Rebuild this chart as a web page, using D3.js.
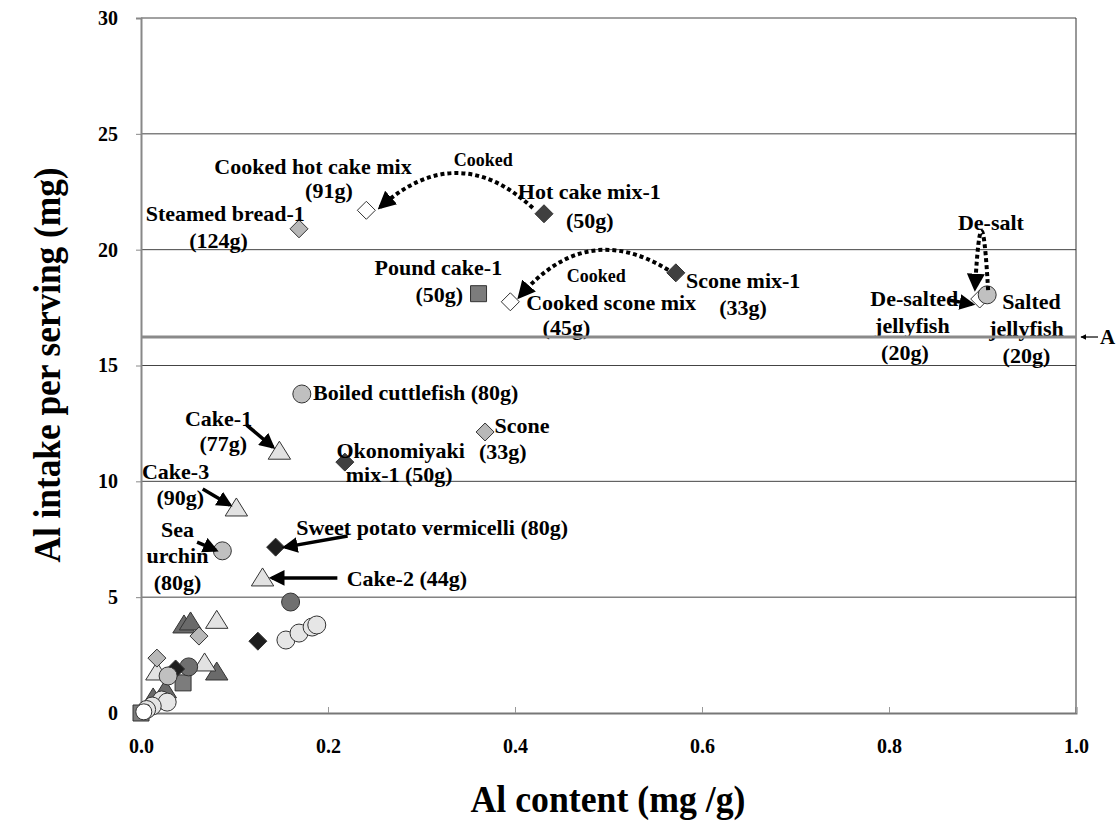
<!DOCTYPE html>
<html>
<head>
<meta charset="utf-8">
<script src="https://cdn.jsdelivr.net/npm/d3@7"></script>
<style>
  body { margin: 0; background: #fff; }
  svg text { font-family: "Liberation Serif", "DejaVu Serif", serif; font-weight: bold; }
</style>
</head>
<body>
<div id="chart"></div>
<script>
// values: [Al content mg/g, Al intake mg]
var blackDiamonds  = [[0.144, 7.16], [0.125, 3.10], [0.037, 1.90]];
var darkDiamonds   = [[0.431, 21.55], [0.572, 19.0], [0.218, 10.83]];
var lightDiamonds  = [[0.169, 20.9], [0.368, 12.13], [0.062, 3.32], [0.017, 2.37]];
var whiteDiamonds  = [[0.241, 21.7], [0.395, 17.75], [0.897, 17.87]];
var darkTriangles  = [[0.046, 3.80], [0.053, 3.93], [0.081, 1.77], [0.026, 1.0], [0.013, 0.65]];
var lightTriangles = [[0.148, 11.3], [0.102, 8.85], [0.130, 5.83], [0.081, 4.0], [0.017, 1.77], [0.068, 2.16]];
var grayCircles    = [[0.160, 4.79], [0.051, 1.99]];
var lightCircles   = [[0.172, 13.77], [0.087, 7.0], [0.029, 1.6], [0.905, 18.05]];
var paleCircles    = [[0.155, 3.15], [0.169, 3.45], [0.183, 3.71], [0.188, 3.8], [0.022, 0.56], [0.028, 0.47], [0.012, 0.3], [0.006, 0.15]];
var graySquares    = [[0.361, 18.1], [0.045, 1.3], [0.0, 0.0]];
var whiteCircles   = [[0.003, 0.05]];

var xTicks = [0.0, 0.2, 0.4, 0.6, 0.8, 1.0];
var yTicks = [0, 5, 10, 15, 20, 25, 30];
var lineA = 16.23;

// text labels [text, x, y, anchor, small]
var labels = [
  ["Cooked hot cake mix", 0.184, 23.61, "middle"],
  ["(91g)", 0.201, 22.57, "middle"],
  ["Cooked", 0.366, 23.87, "middle", 1],
  ["Hot cake mix-1", 0.403, 22.53, "start"],
  ["(50g)", 0.480, 21.28, "middle"],
  ["Steamed bread-1", 0.005, 21.58, "start"],
  ["(124g)", 0.083, 20.41, "middle"],
  ["Pound cake-1", 0.318, 19.25, "middle"],
  ["(50g)", 0.319, 18.08, "middle"],
  ["Cooked", 0.487, 18.86, "middle", 1],
  ["Scone mix-1", 0.583, 18.69, "start"],
  ["(33g)", 0.644, 17.52, "middle"],
  ["Cooked scone mix", 0.412, 17.74, "start"],
  ["(45g)", 0.455, 16.66, "middle"],
  ["De-salt", 0.909, 21.19, "middle"],
  ["De-salted", 0.780, 17.91, "start"],
  ["jellyfish", 0.825, 16.75, "middle"],
  ["(20g)", 0.817, 15.58, "middle"],
  ["Salted", 0.921, 17.78, "start"],
  ["jellyfish", 0.947, 16.62, "middle"],
  ["(20g)", 0.947, 15.45, "middle"],
  ["Boiled cuttlefish (80g)", 0.184, 13.85, "start"],
  ["Cake-1", 0.083, 12.73, "middle"],
  ["(77g)", 0.088, 11.65, "middle"],
  ["Okonomiyaki", 0.209, 11.35, "start"],
  ["mix-1 (50g)", 0.219, 10.32, "start"],
  ["Scone", 0.378, 12.43, "start"],
  ["(33g)", 0.387, 11.31, "middle"],
  ["Cake-3", 0.037, 10.44, "middle"],
  ["(90g)", 0.042, 9.32, "middle"],
  ["Sea", 0.039, 7.94, "middle"],
  ["urchin", 0.039, 6.82, "middle"],
  ["(80g)", 0.039, 5.65, "middle"],
  ["Sweet potato vermicelli (80g)", 0.166, 8.03, "start"],
  ["Cake-2 (44g)", 0.220, 5.83, "start"]
];

// straight arrows [x1, y1, x2, y2]
var arrows = [
  [0.113, 12.43, 0.141, 11.48],
  [0.066, 9.67, 0.095, 8.98],
  [0.060, 7.38, 0.080, 7.03],
  [0.221, 7.64, 0.154, 7.16],
  [0.210, 5.83, 0.140, 5.83],
  [0.865, 17.82, 0.889, 17.65]
];
// dotted curves [x1, y1, cx, cy, x2, y2]
var curves = [
  [0.419, 21.80, 0.338, 24.80, 0.256, 21.84],
  [0.564, 19.12, 0.476, 21.32, 0.405, 17.98],
  [0.906, 18.25, 0.899, 23.3, 0.892, 18.34]
];

var W = 1116, H = 823;

var x = d3.scaleLinear().domain([0, 1]).range([141, 1076]);
var y = d3.scaleLinear().domain([0, 30]).range([713, 18]);

var svg = d3.select("#chart").append("svg")
  .attr("width", W).attr("height", H);

var defs = svg.append("defs");
defs.append("marker").attr("id", "head")
  .attr("viewBox", "0 0 10 10").attr("refX", 9).attr("refY", 5)
  .attr("markerWidth", 5).attr("markerHeight", 5).attr("orient", "auto")
  .append("path").attr("d", "M0,0L10,5L0,10z").attr("fill", "#000");
defs.append("marker").attr("id", "headBig")
  .attr("viewBox", "0 0 10 10").attr("refX", 8).attr("refY", 5)
  .attr("markerWidth", 4.5).attr("markerHeight", 4.5).attr("orient", "auto")
  .attr("markerUnits", "strokeWidth")
  .append("path").attr("d", "M0,0L10,5L0,10z").attr("fill", "#000");

// gridlines
svg.append("g").selectAll("line").data(yTicks.filter(d => d > 0)).enter().append("line")
  .attr("x1", x(0)).attr("x2", x(1))
  .attr("y1", d => y(d)).attr("y2", d => y(d))
  .attr("stroke", "#444").attr("stroke-width", 1);

// right border
svg.append("line").attr("x1", x(1)).attr("x2", x(1)).attr("y1", y(30)).attr("y2", y(0))
  .attr("stroke", "#333").attr("stroke-width", 1);

// axes
var yAxis = d3.axisLeft(y).tickValues(yTicks).tickSize(5).tickPadding(18).tickFormat(d3.format("d"));
var gy = svg.append("g").attr("transform", "translate(" + x(0) + ",0)").call(yAxis);
gy.attr("font-family", null).attr("font-size", null);
gy.select(".domain").attr("stroke", "#888").attr("stroke-width", 2);
gy.selectAll(".tick line").attr("stroke", "#888");
gy.selectAll(".tick text").style("font-size", "20px").attr("fill", "#000");

var xAxis = d3.axisBottom(x).tickValues(xTicks).tickSize(-6).tickPadding(26).tickFormat(d3.format(".1f"));
var gx = svg.append("g").attr("transform", "translate(0," + y(0) + ")").call(xAxis);
gx.attr("font-family", null).attr("font-size", null);
gx.select(".domain").attr("stroke", "#777").attr("stroke-width", 2);
gx.selectAll(".tick line").attr("stroke", "#999");
gx.selectAll(".tick text").style("font-size", "20px").attr("fill", "#000");

// marker shapes
function diamond(s) { return "M0," + (-s) + "L" + s + ",0L0," + s + "L" + (-s) + ",0Z"; }
function triangle(s) { return "M0," + (-s) + "L" + (s * 1.12) + "," + (s * 0.8) + "L" + (-s * 1.12) + "," + (s * 0.8) + "Z"; }
function square(s) { return "M" + (-s) + "," + (-s) + "H" + s + "V" + s + "H" + (-s) + "Z"; }
function circle(s) { return d3.arc()({innerRadius: 0, outerRadius: s, startAngle: 0, endAngle: 2 * Math.PI}); }

var series = [
  {data: darkTriangles,  shape: triangle(10), fill: "#6a6a6a"},
  {data: lightTriangles, shape: triangle(10), fill: "#e2e2e2"},
  {data: paleCircles,    shape: circle(9),    fill: "#e6e6e6"},
  {data: lightDiamonds,  shape: diamond(9),   fill: "#b8b8b8"},
  {data: graySquares,    shape: square(8),    fill: "#7c7c7c"},
  {data: grayCircles,    shape: circle(9),    fill: "#707070"},
  {data: blackDiamonds,  shape: diamond(9),   fill: "#1e1e1e"},
  {data: darkDiamonds,   shape: diamond(9),   fill: "#404040"},
  {data: whiteDiamonds,  shape: diamond(9),   fill: "#ffffff"},
  {data: lightCircles,   shape: circle(9),    fill: "#c0c0c0"},
  {data: whiteCircles,   shape: circle(8),    fill: "#ffffff"}
];

series.forEach(function(s) {
  svg.append("g").selectAll("path").data(s.data).enter().append("path")
    .attr("d", s.shape)
    .attr("transform", d => "translate(" + x(d[0]) + "," + y(d[1]) + ")")
    .attr("fill", s.fill)
    .attr("stroke", "#333").attr("stroke-width", 1);
});

// arrows
svg.append("g").selectAll("line").data(arrows).enter().append("line")
  .attr("x1", d => x(d[0])).attr("y1", d => y(d[1]))
  .attr("x2", d => x(d[2])).attr("y2", d => y(d[3]))
  .attr("stroke", "#000").attr("stroke-width", 3.5)
  .attr("marker-end", "url(#headBig)");

svg.append("g").selectAll("path").data(curves).enter().append("path")
  .attr("d", d => "M" + x(d[0]) + "," + y(d[1]) + "Q" + x(d[2]) + "," + y(d[3]) + " " + x(d[4]) + "," + y(d[5]))
  .attr("fill", "none").attr("stroke", "#000").attr("stroke-width", 4)
  .attr("stroke-dasharray", "4 3")
  .attr("marker-end", "url(#headBig)");

// labels
svg.append("g").selectAll("text").data(labels).enter().append("text")
  .attr("x", d => x(d[1])).attr("y", d => y(d[2]))
  .attr("dy", "0.35em")
  .attr("text-anchor", d => d[3])
  .style("font-size", d => d[4] ? "18px" : "22px")
  .text(d => d[0]);

// line A
svg.append("line").attr("x1", x(0)).attr("x2", x(1))
  .attr("y1", y(lineA)).attr("y2", y(lineA))
  .attr("stroke", "#8a8a8a").attr("stroke-width", 3);
svg.append("line").attr("x1", x(1) + 22).attr("x2", x(1) + 5)
  .attr("y1", y(lineA)).attr("y2", y(lineA))
  .attr("stroke", "#000").attr("stroke-width", 1.2)
  .attr("marker-end", "url(#head)");
svg.append("text").attr("x", x(1) + 24).attr("y", y(lineA)).attr("dy", "0.35em")
  .style("font-size", "21px").text("A");

// axis titles
svg.append("text").attr("x", 608).attr("y", 812)
  .attr("text-anchor", "middle").style("font-size", "38px")
  .attr("textLength", 275).attr("lengthAdjust", "spacingAndGlyphs")
  .text("Al content (mg /g)");
svg.append("text").attr("transform", "translate(60,365) rotate(-90)")
  .attr("text-anchor", "middle").style("font-size", "38px")
  .attr("textLength", 395).attr("lengthAdjust", "spacingAndGlyphs")
  .text("Al intake per serving (mg)");
</script>
</body>
</html>
